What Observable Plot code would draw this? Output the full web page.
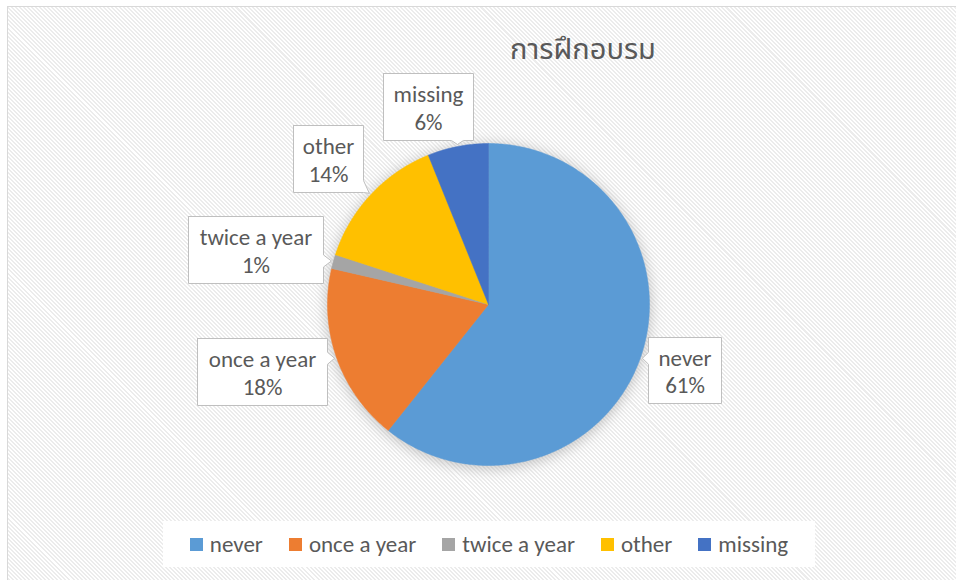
<!DOCTYPE html>
<html>
<head>
<meta charset="utf-8">
<script src="https://cdn.jsdelivr.net/npm/d3@7"></script>
<script src="https://cdn.jsdelivr.net/npm/@observablehq/plot@0.6"></script>
<style>
  html, body { margin: 0; padding: 0; background: #fff; }
  #wrap { position: relative; width: 956px; height: 580px; overflow: hidden; background: #fff; }
  #frame { position: absolute; left: 7px; top: 6px; width: 1000px; height: 1000px;
    border-left: 1px solid #D9D9D9; border-top: 1px solid #D9D9D9;
    background: repeating-linear-gradient(45deg, #ffffff 0px, #ffffff 1.42px, #ececec 1.42px, #ececec 2.84px); }
  #chart { position: absolute; left: 0; top: 0; }
  #title { position: absolute; left: 583px; top: 28px; transform: translateX(-50%);
    font-family: "Leelawadee UI", "Noto Sans Thai", "Noto Sans Thai UI", "Noto Sans", sans-serif;
    font-size: 29px; color: #595959; white-space: nowrap; }
  #legend { position: absolute; left: 163px; top: 521px; width: 652px; height: 46px; background: #fff;
    display: flex; align-items: center; justify-content: center; gap: 26px;
    font-family: Carlito, Calibri, Lato, "Open Sans", sans-serif; font-size: 23px; color: #595959; }
  .item { display: flex; align-items: center; white-space: nowrap; }
  .sw { width: 13px; height: 13px; margin-right: 7px; display: inline-block; }
</style>
</head>
<body>
<div id="wrap">
  <div id="frame"></div>
  <div id="chart"></div>
  <div id="title"></div>
  <div id="legend"></div>
</div>
<script>
// ---- data ----
const title = "การฝึกอบรม";
const categories = ["never", "once a year", "twice a year", "other", "missing"];
const values = [60.7, 17.9, 1.4, 13.9, 6.1];
const colors = ["#5B9BD5", "#ED7D31", "#A5A5A5", "#FFC000", "#4472C4"];

// ---- layout ----
const W = 956, H = 580;
const cx = 488, cy = 304, R = 161;
const labelBoxes = {
  "never":        {x: 684.5, y: 370,   w: 73,  h: 66},
  "once a year":  {x: 262,   y: 371.5, w: 130, h: 67},
  "twice a year": {x: 255.5, y: 249.5, w: 135, h: 67},
  "other":        {x: 328,   y: 158.5, w: 70,  h: 67},
  "missing":      {x: 428,   y: 106.5, w: 90,  h: 67}
};
const FONT = "Carlito, Calibri, Lato, 'Open Sans', sans-serif";

const total = d3.sum(values);
const arcs = d3.pie().sort(null).startAngle(0).endAngle(2 * Math.PI)(values);
const pt = (a, r) => ({x: cx + r * Math.sin(a), y: cy - r * Math.cos(a)});

// slice polygons
const slicePts = [];
arcs.forEach((a, i) => {
  const cat = categories[i];
  const n = Math.max(2, Math.ceil((a.endAngle - a.startAngle) * 180 / Math.PI * 2));
  slicePts.push({cat, x: cx, y: cy});
  for (let k = 0; k <= n; k++) {
    const p = pt(a.startAngle + (a.endAngle - a.startAngle) * k / n, R);
    slicePts.push({cat, ...p});
  }
  slicePts.push({cat, x: cx, y: cy});
});

// callouts
function callout(b, tip) {
  const L = b.x - b.w / 2, Rr = b.x + b.w / 2, T = b.y - b.h / 2, B = b.y + b.h / 2;
  const hw = 6;
  const dxn = (tip.x - b.x) / (b.w / 2), dyn = (tip.y - b.y) / (b.h / 2);
  let side;
  if (Math.abs(dxn) > Math.abs(dyn)) side = dxn > 0 ? "right" : "left";
  else side = dyn > 0 ? "bottom" : "top";
  const clamp = (v, lo, hi) => Math.max(lo, Math.min(hi, v));
  const pts = [[L, T]];
  if (side === "top") { const m = clamp(tip.x, L + hw, Rr - hw); pts.push([m - hw, T], [tip.x, tip.y], [m + hw, T]); }
  pts.push([Rr, T]);
  if (side === "right") { const m = clamp(tip.y, T + hw, B - hw); pts.push([Rr, m - hw], [tip.x, tip.y], [Rr, m + hw]); }
  pts.push([Rr, B]);
  if (side === "bottom") { const m = clamp(tip.x, L + hw, Rr - hw); pts.push([m + hw, B], [tip.x, tip.y], [m - hw, B]); }
  pts.push([L, B]);
  if (side === "left") { const m = clamp(tip.y, T + hw, B - hw); pts.push([L, m + hw], [tip.x, tip.y], [L, m - hw]); }
  pts.push([L, T]);
  return pts;
}
const calloutPts = [];
const labels = [];
arcs.forEach((a, i) => {
  const cat = categories[i];
  const b = labelBoxes[cat];
  const tip = pt((a.startAngle + a.endAngle) / 2, R + 2);
  callout(b, tip).forEach(([x, y]) => calloutPts.push({cat, x, y}));
  labels.push({cat, x: b.x, y: b.y, text: cat + "\n" + Math.round(values[i] / total * 100) + "%"});
});

const plot = Plot.plot({
  width: W, height: H, margin: 0,
  x: {domain: [0, W], range: [0, W], axis: null},
  y: {domain: [0, H], range: [0, H], axis: null},
  color: {domain: categories, range: colors},
  style: {background: "transparent", overflow: "visible"},
  marks: [
    Plot.dot([{x: cx, y: cy + 2}], {x: "x", y: "y", r: R + 1, fill: "#8c8c8c", fillOpacity: 0.5, stroke: null}),
    Plot.line(slicePts, {x: "x", y: "y", z: "cat", fill: "cat", stroke: "cat", strokeWidth: 0.5, curve: "linear"}),
    Plot.line(calloutPts, {x: "x", y: "y", z: "cat", fill: "white", stroke: "#BFBFBF", strokeWidth: 1, curve: "linear"}),
    Plot.text(labels, {x: "x", y: "y", text: "text", fontSize: 23, fill: "#595959", lineHeight: 1.2, fontFamily: FONT, textAnchor: "middle"})
  ]
});

const svg = d3.select(plot);
const defs = svg.insert("defs", ":first-child");
const f = defs.append("filter").attr("id", "pieShadow")
  .attr("x", "-30%").attr("y", "-30%").attr("width", "160%").attr("height", "160%");
f.append("feGaussianBlur").attr("stdDeviation", 7);
svg.select('g[aria-label="dot"]').attr("filter", "url(#pieShadow)");

document.getElementById("chart").appendChild(plot);
document.getElementById("title").textContent = title;

const legend = d3.select("#legend");
categories.forEach((c, i) => {
  const it = legend.append("div").attr("class", "item");
  it.append("span").attr("class", "sw").style("background", colors[i]);
  it.append("span").text(c);
});
</script>
</body>
</html>
